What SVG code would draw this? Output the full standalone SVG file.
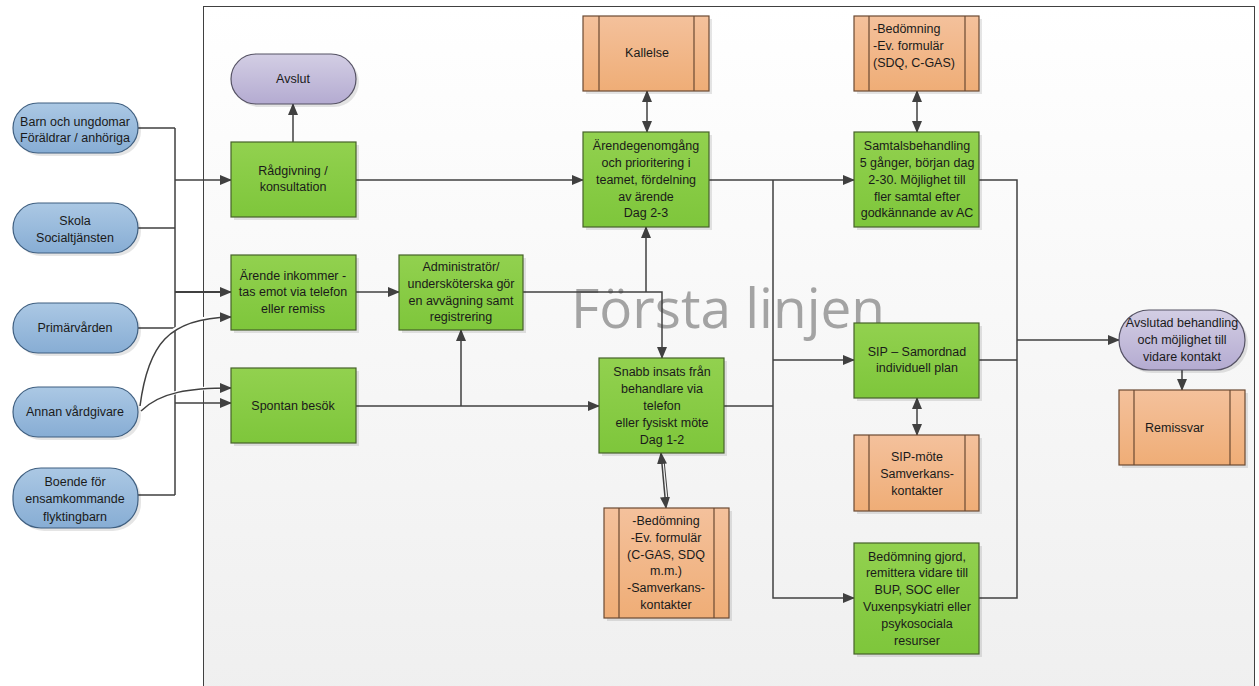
<svg xmlns="http://www.w3.org/2000/svg" width="1259" height="686" viewBox="0 0 1259 686">
<defs>
<linearGradient id="gBg" x1="0" y1="0" x2="0" y2="1"><stop offset="0" stop-color="#ffffff"/><stop offset="1" stop-color="#efefef"/></linearGradient>
<linearGradient id="gGreen" x1="0" y1="0" x2="0" y2="1"><stop offset="0" stop-color="#92d14f"/><stop offset="1" stop-color="#7ec63b"/></linearGradient>
<linearGradient id="gOrange" x1="0" y1="0" x2="0" y2="1"><stop offset="0" stop-color="#f4c19c"/><stop offset="1" stop-color="#efad76"/></linearGradient>
<linearGradient id="gBlue" x1="0" y1="0" x2="0" y2="1"><stop offset="0" stop-color="#abc8e4"/><stop offset="1" stop-color="#87add4"/></linearGradient>
<linearGradient id="gPurple" x1="0" y1="0" x2="0" y2="1"><stop offset="0" stop-color="#d3cee4"/><stop offset="1" stop-color="#b4abd1"/></linearGradient>
<marker id="arr" markerUnits="userSpaceOnUse" markerWidth="12" markerHeight="10" refX="11" refY="5" orient="auto-start-reverse" viewBox="0 0 12 10">
<path d="M0,0 L12,5 L0,10 Z" fill="#404040"/>
</marker>
</defs>
<style>
.bg{fill:url(#gBg);stroke:#404040;stroke-width:1}
.sh{fill:#000;opacity:0.1}
.green{fill:url(#gGreen);stroke:#46622a;stroke-width:1.2}
.orange{fill:url(#gOrange);stroke:#6b4a33;stroke-width:1.2}
.inner{stroke:#6b4a33;stroke-width:1.2}
.blue{fill:url(#gBlue);stroke:#3f5f80;stroke-width:1.2}
.purple{fill:url(#gPurple);stroke:#555264;stroke-width:1.2}
text{font-family:"Liberation Sans",Arial,sans-serif;font-size:12.5px;fill:#1a1a1a}
.c{text-anchor:middle}
.wm{font-family:"Open Sans","Liberation Sans",sans-serif;font-size:55px;fill:#a3a3a3}
.ln{fill:none;stroke:#404040;stroke-width:1.5}
.a{marker-end:url(#arr)}
.b{marker-start:url(#arr);marker-end:url(#arr)}
.halo{fill:none;stroke:#ffffff;stroke-width:3.5}
</style>

<rect class="bg" x="203.5" y="6.5" width="1051" height="700"/>
<text class="wm" x="571" y="328" textLength="314" lengthAdjust="spacingAndGlyphs">Första linjen</text>

<g id="connectors">
<path class="ln" d="M138,128 H175 M138,228 H175 M138,328 H175 M138,495 H175 M175,128 V495"/>
<path class="ln a" d="M175,180 H231"/>
<path class="ln a" style="stroke-width:2.2" d="M175,292 H231"/>
<path class="ln a" d="M175,403 H231"/>
<path class="halo" d="M140,406 C148,345 168,318 222,317"/>
<path class="ln a" d="M140,406 C148,345 168,318 231,317"/>
<path class="halo" d="M141,411 C160,392 190,388 222,388"/>
<path class="ln a" d="M141,411 C160,392 190,388 231,388"/>
<path class="ln a" d="M293,142 V104"/>
<path class="ln a" d="M356,180 H583"/>
<path class="ln a" d="M356,292 H399"/>
<path class="ln a" d="M523,292 H662 V358"/>
<path class="ln a" d="M646,292 V227"/>
<path class="ln a" d="M356,406 H599"/>
<path class="ln a" d="M461,406 V330"/>
<path class="ln b" d="M647,91 V132"/>
<path class="ln a" d="M709,180 H854"/>
<path class="ln a" d="M773,180 V598 H854"/>
<path class="ln a" d="M773,360 H854"/>
<path class="ln" d="M724,406 H773"/>
<path class="ln b" d="M917,91 V132"/>
<path class="ln b" d="M917,398 V435"/>
<path class="ln b" d="M661,453 L666,508"/>
<path class="ln" style="stroke-width:1" d="M664,460 L668,500"/>
<path class="ln" d="M979,180 H1017 V598 H979 M979,360 H1017"/>
<path class="ln a" d="M1017,340 H1119"/>
<path class="ln a" d="M1182,370 V390"/>
</g>

<g id="n-barn">
<rect class="sh" x="16" y="106" width="125" height="50" rx="25"/>
<rect class="blue" x="13" y="103" width="125" height="50" rx="25"/>
<text class="c" x="75" y="126">Barn och ungdomar</text>
<text class="c" x="75" y="142">Föräldrar / anhöriga</text>
</g>
<g id="n-skola">
<rect class="sh" x="16" y="206" width="125" height="50" rx="25"/>
<rect class="blue" x="13" y="203" width="125" height="50" rx="25"/>
<text class="c" x="75" y="225">Skola</text>
<text class="c" x="75" y="242">Socialtjänsten</text>
</g>
<g id="n-primar">
<rect class="sh" x="16" y="306" width="125" height="50" rx="25"/>
<rect class="blue" x="13" y="303" width="125" height="50" rx="25"/>
<text class="c" x="75" y="332">Primärvården</text>
</g>
<g id="n-annan">
<rect class="sh" x="16" y="390" width="125" height="50" rx="25"/>
<rect class="blue" x="13" y="387" width="125" height="50" rx="25"/>
<text class="c" x="75" y="416">Annan vårdgivare</text>
</g>
<g id="n-boende">
<rect class="sh" x="16" y="471" width="125" height="60" rx="28"/>
<rect class="blue" x="13" y="468" width="125" height="60" rx="28"/>
<text class="c" x="75" y="486">Boende för</text>
<text class="c" x="75" y="503">ensamkommande</text>
<text class="c" x="75" y="521">flyktingbarn</text>
</g>

<g id="n-avslut">
<rect class="sh" x="234" y="57" width="125" height="50" rx="25"/>
<rect class="purple" x="231" y="54" width="125" height="50" rx="25"/>
<text class="c" x="293" y="83">Avslut</text>
</g>
<g id="n-radgivning">
<rect class="sh" x="234" y="145" width="125" height="75"/>
<rect class="green" x="231" y="142" width="125" height="75"/>
<text class="c" x="293" y="175">Rådgivning /</text>
<text class="c" x="293" y="191">konsultation</text>
</g>
<g id="n-arende-inkommer">
<rect class="sh" x="234" y="258" width="125" height="75"/>
<rect class="green" x="231" y="255" width="125" height="75"/>
<text class="c" x="293" y="280">Ärende inkommer -</text>
<text class="c" x="293" y="296">tas emot via telefon</text>
<text class="c" x="293" y="313">eller remiss</text>
</g>
<g id="n-admin">
<rect class="sh" x="402" y="258" width="124" height="75"/>
<rect class="green" x="399" y="255" width="124" height="75"/>
<text class="c" x="461" y="271">Administratör/</text>
<text class="c" x="461" y="288">undersköterska  gör</text>
<text class="c" x="461" y="305">en avvägning samt</text>
<text class="c" x="461" y="321">registrering</text>
</g>
<g id="n-spontan">
<rect class="sh" x="234" y="371" width="125" height="75"/>
<rect class="green" x="231" y="368" width="125" height="75"/>
<text class="c" x="293" y="410">Spontan besök</text>
</g>

<g id="n-kallelse">
<rect class="sh" x="586" y="19" width="126" height="75"/>
<rect class="orange" x="583" y="16" width="126" height="75"/>
<path class="inner" d="M599,16 V91 M694,16 V91"/>
<text class="c" x="647" y="57">Kallelse</text>
</g>
<g id="n-arendegenomgang">
<rect class="sh" x="586" y="135" width="126" height="95"/>
<rect class="green" x="583" y="132" width="126" height="95"/>
<text class="c" x="646" y="150">Ärendegenomgång</text>
<text class="c" x="646" y="167">och prioritering i</text>
<text class="c" x="646" y="184">teamet, fördelning</text>
<text class="c" x="646" y="201">av ärende</text>
<text class="c" x="646" y="217">Dag 2-3</text>
</g>
<g id="n-snabb">
<rect class="sh" x="602" y="361" width="125" height="95"/>
<rect class="green" x="599" y="358" width="125" height="95"/>
<text class="c" x="662" y="376">Snabb insats från</text>
<text class="c" x="662" y="393">behandlare via</text>
<text class="c" x="662" y="410">telefon</text>
<text class="c" x="662" y="427">eller fysiskt möte</text>
<text class="c" x="662" y="444">Dag 1-2</text>
</g>
<g id="n-snabb-box">
<rect class="sh" x="607" y="511" width="125" height="110"/>
<rect class="orange" x="604" y="508" width="125" height="110"/>
<path class="inner" d="M619,508 V618 M714,508 V618"/>
<text class="c" x="666" y="525">-Bedömning</text>
<text class="c" x="666" y="542">-Ev. formulär</text>
<text class="c" x="666" y="559">(C-GAS, SDQ</text>
<text class="c" x="666" y="575">m.m.)</text>
<text class="c" x="666" y="592">-Samverkans-</text>
<text class="c" x="666" y="609">kontakter</text>
</g>

<g id="n-bedomning-top">
<rect class="sh" x="857" y="19" width="125" height="75"/>
<rect class="orange" x="854" y="16" width="125" height="75"/>
<path class="inner" d="M869,16 V91 M965,16 V91"/>
<text x="873" y="33">-Bedömning</text>
<text x="873" y="50">-Ev. formulär</text>
<text x="873" y="67">(SDQ, C-GAS)</text>
</g>
<g id="n-samtal">
<rect class="sh" x="857" y="135" width="125" height="95"/>
<rect class="green" x="854" y="132" width="125" height="95"/>
<text class="c" x="917" y="150">Samtalsbehandling</text>
<text class="c" x="917" y="167">5 gånger, början dag</text>
<text class="c" x="917" y="184">2-30. Möjlighet till</text>
<text class="c" x="917" y="201">fler samtal efter</text>
<text class="c" x="917" y="217">godkännande av AC</text>
</g>
<g id="n-sip">
<rect class="sh" x="857" y="326" width="125" height="75"/>
<rect class="green" x="854" y="323" width="125" height="75"/>
<text class="c" x="917" y="356">SIP – Samordnad</text>
<text class="c" x="917" y="372">individuell plan</text>
</g>
<g id="n-sip-mote">
<rect class="sh" x="857" y="438" width="125" height="76"/>
<rect class="orange" x="854" y="435" width="125" height="76"/>
<path class="inner" d="M869,435 V511 M965,435 V511"/>
<text class="c" x="917" y="461">SIP-möte</text>
<text class="c" x="917" y="478">Samverkans-</text>
<text class="c" x="917" y="495">kontakter</text>
</g>
<g id="n-bedomning-gjord">
<rect class="sh" x="857" y="546" width="125" height="111"/>
<rect class="green" x="854" y="543" width="125" height="111"/>
<text class="c" x="917" y="561">Bedömning gjord,</text>
<text class="c" x="917" y="577">remittera vidare till</text>
<text class="c" x="917" y="594">BUP, SOC eller</text>
<text class="c" x="917" y="611">Vuxenpsykiatri eller</text>
<text class="c" x="917" y="628">psykosociala</text>
<text class="c" x="917" y="645">resurser</text>
</g>

<g id="n-avslutad">
<rect class="sh" x="1122" y="313" width="126" height="60" rx="30"/>
<rect class="purple" x="1119" y="310" width="126" height="60" rx="30"/>
<text class="c" x="1182" y="327">Avslutad behandling</text>
<text class="c" x="1182" y="344">och  möjlighet till</text>
<text class="c" x="1182" y="361">vidare kontakt</text>
</g>
<g id="n-remissvar">
<rect class="sh" x="1122" y="393" width="126" height="75"/>
<rect class="orange" x="1119" y="390" width="126" height="75"/>
<path class="inner" d="M1134,390 V465 M1230,390 V465"/>
<text x="1145" y="432">Remissvar</text>
</g>
</svg>
